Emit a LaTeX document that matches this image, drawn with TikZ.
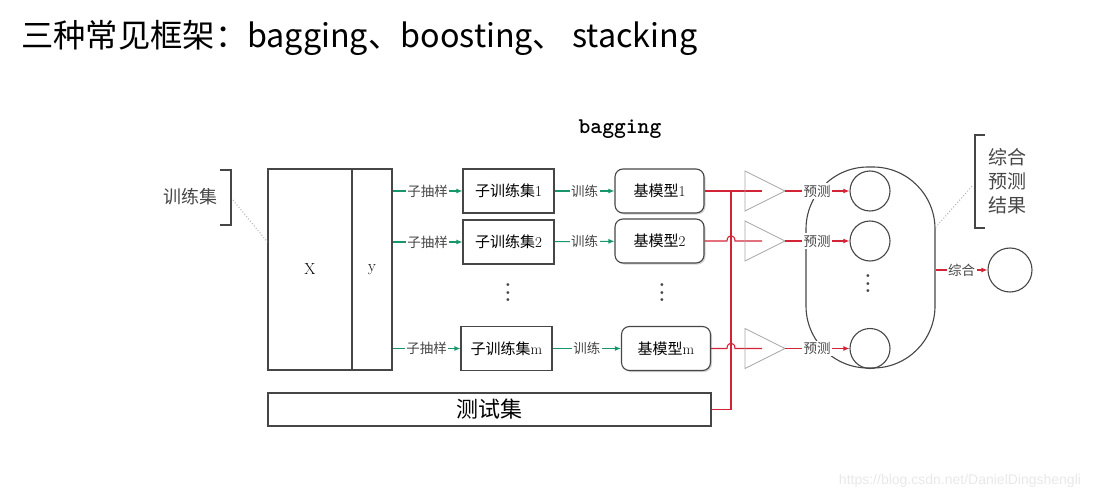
\documentclass[tikz,border=0pt]{standalone}
\usepackage{fontspec}
\newfontfamily\cjk{Noto Sans CJK SC}
\newfontfamily\wmfont{Liberation Sans}
\newcommand{\moredots}{\vbox{\baselineskip=7.5pt \lineskiplimit=0pt \hbox{.}\hbox{.}\hbox{.}}}
\usetikzlibrary{positioning}
\usetikzlibrary{arrows.meta,shadows}
\definecolor{trainGreen}{RGB}{25,150,105}
\definecolor{predRed}{RGB}{210,35,55}
\definecolor{boxGray}{RGB}{70,70,70}
\tikzset{
  setbox/.style={draw=boxGray, line width=1.1pt, inner sep=0pt},
  modelbox/.style={setbox, rounded corners=8pt, fill=white,
    drop shadow={opacity=0.35, shadow xshift=1.5pt, shadow yshift=-1.5pt}},
  samplearrow/.style={color=trainGreen, line width=1.1pt, -{Latex[length=6pt,width=5pt]}},
  predarrow/.style={color=predRed, line width=1.1pt, -{Latex[length=6pt,width=5pt]}},
  redwire/.style={color=predRed, line width=1.1pt},
  tag/.style={fill=white, inner sep=1.5pt, text=boxGray, font=\fontsize{13.5}{14}\selectfont\cjk},
  boxtext/.style={font=\fontsize{15}{15}\selectfont},
  ball/.style={circle, draw=boxGray, line width=1.1pt, minimum size=40pt, inner sep=0pt},
  amp/.style={draw=gray!70, line width=0.8pt},
  hint/.style={draw=gray!60, dotted, line width=1pt},
  bracket/.style={draw=boxGray, line width=1.1pt},
  more/.style={inner sep=0pt, font=\fontsize{20}{20}\selectfont\bfseries, text=boxGray},
}

\begin{document}
\begin{tikzpicture}[x=1pt,y=-1pt]
	\useasboundingbox (0,0) rectangle (1107,497);
	\node[anchor=west, inner sep=0pt, font=\fontsize{32.3}{32}\selectfont\cjk] (title) at (21,38) {三种常见框架：bagging、boosting、 stacking};
	\node[font=\fontsize{22.5}{22}\selectfont\ttfamily\bfseries] (name) at (620,129) {bagging};
	% training data
	\node[setbox, minimum width=84pt, minimum height=201pt, font=\fontsize{16}{16}\selectfont] (X) at (310,269.5) {X};
	\node[setbox, minimum width=40pt, minimum height=201pt, font=\fontsize{16}{16}\selectfont] (Y) at (372,269.5) {y};
	\node[text=boxGray, font=\fontsize{18}{18}\selectfont\cjk] (trainset) at (190,197) {训练集};
	\draw[bracket] (220,170) -- (231,170) -- (231,225) -- (220,225);
	\coordinate (lb) at (233,200);
	\draw[hint] (lb) -- ([yshift=27.5pt]X.west);
	% sub training sets
	\node[setbox, minimum width=91pt, minimum height=44pt, boxtext] (sub1) at (508.5,191) {{\cjk 子训练集}1};%1
	\node[setbox, minimum width=91pt, minimum height=44pt, boxtext] (sub2) at (508.5,242) {{\cjk 子训练集}2};%2
	\node[setbox, minimum width=91pt, minimum height=44pt, boxtext] (subm) at (506.5,348.5) {{\cjk 子训练集}m};%m
	\node[more] (dots1) at (508,293) {\moredots};
	\draw[samplearrow] (Y.east |- sub1) --node[tag]{子抽样} (sub1);
	\draw[samplearrow] (Y.east |- sub2) --node[tag]{子抽样} (sub2);
	\draw[samplearrow] (Y.east |- subm) --node[tag]{子抽样} (subm);
	% base models
	\node[modelbox, minimum width=89pt, minimum height=44pt, boxtext] (bm1) at (659.5,191) {{\cjk 基模型}1};%1
	\node[modelbox, minimum width=89pt, minimum height=44pt, boxtext] (bm2) at (659.5,241) {{\cjk 基模型}2};%2
	\node[modelbox, minimum width=89pt, minimum height=44pt, boxtext] (bmm) at (666,348.5) {{\cjk 基模型}m};%m
	\node[more] (dots2) at (662,293) {\moredots};
	\draw[samplearrow] (sub1) --node[tag]{训练} (bm1);
	\draw[samplearrow] (sub2) --node[tag]{训练} (bm2);
	\draw[samplearrow] (subm) --node[tag]{训练} (bmm);
	% test set
	\node[setbox, minimum width=443pt, minimum height=33pt, font=\fontsize{22}{22}\selectfont\cjk] (test) at (489.5,409.5) {测试集};
	% red wiring
	\coordinate (vtop) at (731,191);
	\coordinate (in1) at (762,191);
	\coordinate (in2) at (762,241);
	\coordinate (inm) at (762,348.5);
	\coordinate (hop2) at (vtop |- bm2.east);
	\coordinate (hopm) at (vtop |- bmm.east);
	\draw[redwire] (test.east) -- (test.east -| vtop) -- (vtop);
	\draw[redwire] (bm1.east) -- (in1);
	\draw[redwire] (bm2.east) -- ([xshift=-4pt]hop2) .. controls +(0,-7) and +(0,-7) .. ([xshift=4pt]hop2) -- (in2);
	\draw[redwire] (bmm.east) -- ([xshift=-4pt]hopm) .. controls +(0,-7) and +(0,-7) .. ([xshift=4pt]hopm) -- (inm);
	% triangles
	\coordinate (a1) at (785,191);
	\coordinate (a2) at (785,241);
	\coordinate (am) at (785,348.5);
	\draw[amp] (745,171) -- (a1) -- (745,211) -- cycle;
	\draw[amp] (745,221) -- (a2) -- (745,261) -- cycle;
	\draw[amp] (745,328.5) -- (am) -- (745,368.5) -- cycle;
	% predictions
	\node[draw=boxGray, line width=1.1pt, rounded corners=62pt, minimum width=129pt, minimum height=201pt] (pool) at (870.5,267.5) {};
	\node[ball] (c1) at (870,191) {};
	\node[ball] (c2) at (870,241) {};
	\node[ball] (cm) at (870,348.5) {};
	\node[more] (dots3) at (868,284) {\moredots};
	\draw[predarrow] (a1) --node[tag]{预测} (c1);
	\draw[predarrow] (a2) --node[tag]{预测} (c2);
	\draw[predarrow] (am) --node[tag]{预测} (cm);
	% combine
	\node[ball, minimum size=44pt] (res) at (1010,270) {};
	\draw[predarrow] (pool.east |- res) --node[tag]{综合} (res);
	\draw[bracket] (985,135) -- (975,135) -- (975,228) -- (985,228);
	\coordinate (rb) at (973,185);
	\draw[hint] ([yshift=40pt]pool.east) -- (rb);
	\node[align=center, text=boxGray, font=\fontsize{19}{24}\selectfont\cjk] (restext) at (1007,181) {综合\\预测\\结果};
	\node[text=gray!18, font=\fontsize{14}{14}\selectfont\wmfont] (wm) at (960,481) {https://blog.csdn.net/DanielDingshengli};
\end{tikzpicture}
\end{document}
